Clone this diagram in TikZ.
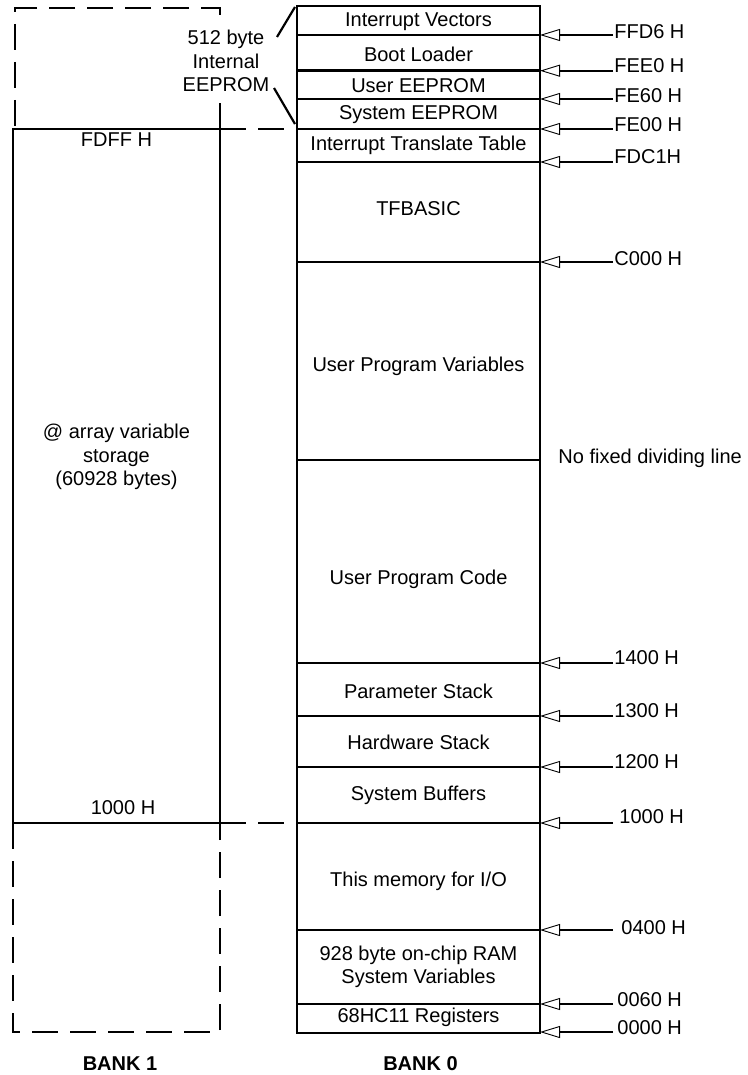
\documentclass[tikz,border=0pt]{standalone}
\usepackage{fontspec}
\setmainfont{Liberation Sans}
\usetikzlibrary{arrows.meta,positioning}

\begin{document}
\begin{tikzpicture}[x=0.5pt,y=-0.5pt,
                    font=\fontsize{10}{11.7}\selectfont,
                    wall/.style={line width=1.4pt},
                    bankedge/.style={line width=1.4pt,dash pattern=on 13pt off 6pt},
                    addr/.style={line width=1pt,-{Triangle[open,length=10pt,width=6pt,line width=0.45pt]}},
                    region/.style={align=center,inner sep=0pt},
                    callout/.style={line width=1.1pt}
                ]
    \useasboundingbox (0,0) rectangle (748,1075);
    % bank 0
    \draw[wall] (297,6) rectangle (540,1033);
    \foreach \y in {35,70.7,99,129,162,262,460,663,716,767,823,930,1004}
        \draw[wall] (297,\y) -- (540,\y);
    \foreach \y/\txt [count=\i] in {22/Interrupt Vectors,54/Boot Loader,86/User EEPROM,
                                    115/System EEPROM,145/Interrupt Translate Table,209/TFBASIC,
                                    366/User Program Variables,579/User Program Code,691/Parameter Stack,
                                    742/Hardware Stack,795/System Buffers,881/{This memory for I/O},
                                    967/{928 byte on-chip RAM\\System Variables},1017/68HC11 Registers}
        \node[region] (reg\i) at (418.5,\y) {\txt};
    % addresses
    \foreach \y/\ly/\lx/\lab [count=\i] in {35/32/614/FFD6 H,70.7/66/614/FEE0 H,99/96/614/FE60 H,
                                            129/125/614/FE00 H,162/157/614/FDC1H,262/259/614/C000 H,
                                            663/658/614/1400 H,716/711/614/1300 H,767/762/614/1200 H,
                                            823/817/619/1000 H,930/928/621/0400 H,1004/1000/617/0060 H,
                                            1032/1028/617/0000 H}
        {
        \coordinate (tail\i) at (613,\y);
        \coordinate (edge\i) at (540,\y);
        \draw[addr] (tail\i) -- (edge\i);
        \node[anchor=west,inner sep=0pt] (addr\i) at (\lx,\ly) {\lab};
        }
    \node[anchor=west,inner sep=0pt] (nofix) at (558,458) {No fixed dividing line};
    % bank 1
    \draw[wall] (13,129) rectangle (220,823);
    \draw[bankedge] (220,129) -- (220,8) -- (15,8) -- (15,129);
    \draw[bankedge] (220,129) -- (297,129);
    \draw[bankedge] (220,823) -- (297,823);
    \draw[bankedge] (13,823) -- (13,1032) -- (220,1032) -- (220,823);
    \node[region] (fdff) at (116.5,140) {FDFF H};
    \node[region] (array) at (116.5,457) {@ array variable\\storage\\(60928 bytes)};
    \node[region] (low1) at (123,808) {1000 H};
    \node[font=\fontsize{10}{12}\selectfont\bfseries] (bank1) at (120,1064) {BANK 1};
    \node[font=\fontsize{10}{12}\selectfont\bfseries] (bank0) at (420.5,1064) {BANK 0};
    % eeprom callout
    \node[region,fill=white,inner sep=2pt] (eeprom) at (226,61) {512 byte\\Internal\\EEPROM};
    \coordinate (ctop) at (277,37);
    \coordinate (cbot) at (274,88);
    \coordinate (vtop) at (295,7);
    \coordinate (vbot) at (295,124);
    \draw[callout] (ctop) -- (vtop);
    \draw[callout] (cbot) -- (vbot);
\end{tikzpicture}
\end{document}
